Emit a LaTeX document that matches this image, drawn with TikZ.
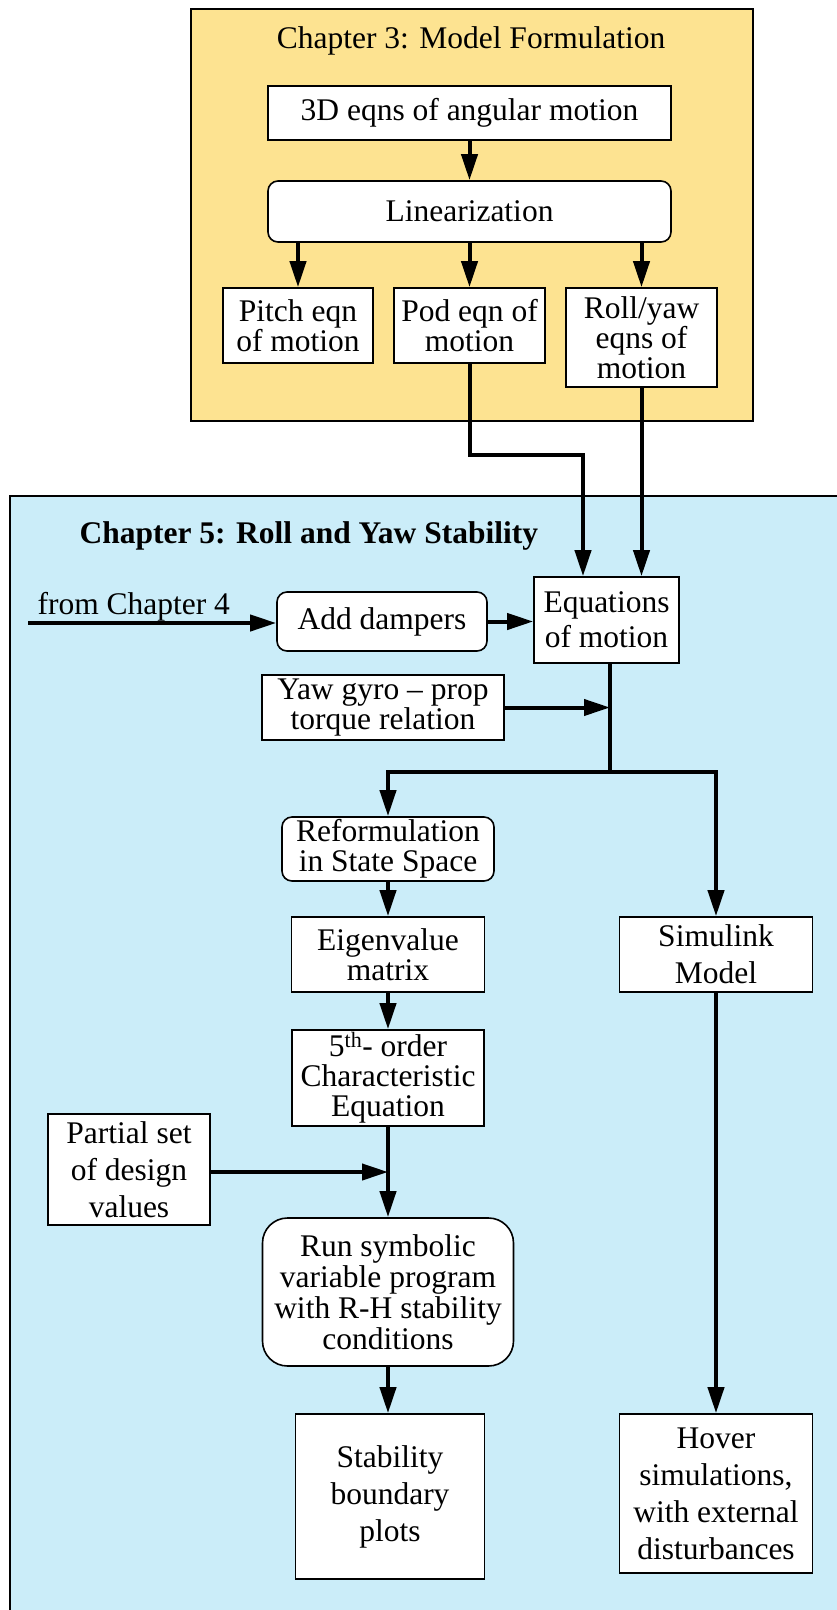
\documentclass[tikz,border=0pt]{standalone}
\usepackage{fontspec}
\setmainfont{Liberation Serif}
\usetikzlibrary{arrows.meta}
\definecolor{chapyellow}{HTML}{FDE391}
\definecolor{chapblue}{HTML}{CBEDF9}
\begin{document}
\begin{tikzpicture}[x=1pt,y=-1pt,
  txt/.style={font=\fontsize{31.5}{30}\selectfont},
  loose/.style={font=\fontsize{31.5}{37}\selectfont},
  box/.style={draw=black,line width=1.6pt,fill=white,align=center,inner sep=0pt,txt},
  rbox/.style={box,rounded corners=10pt},
  arr/.style={line width=4pt,-{Triangle[length=26pt,width=16pt]}},
  ln/.style={line width=4pt},
  frame/.style={draw=black,line width=1.6pt}
  ]
\useasboundingbox (0,0) rectangle (837,1610);
\clip (0,0) rectangle (837,1610);
% Chapter 3 frame
\draw[frame,fill=chapyellow] (191,9) rectangle (753,421);
\node[txt] (t3) at (471,41) {Chapter 3: Model Formulation};
% Chapter 5 frame
\draw[frame,fill=chapblue] (10,496) rectangle (870,1640);
\node[txt,font=\fontsize{31.5}{31}\selectfont\bfseries,anchor=west] (t5) at (76,536) {Chapter 5: Roll and Yaw Stability};

% Chapter 3 nodes
\node[box,minimum width=403pt,minimum height=54pt] (eqns) at (469.5,113) {3D eqns of angular motion};
\node[rbox,minimum width=403pt,minimum height=61pt] (lin) at (469.5,211.5) {Linearization};
\node[box,minimum width=150pt,minimum height=75pt] (pitch) at (298,325.5) {Pitch eqn\\of motion};
\node[box,minimum width=151pt,minimum height=75pt] (pod) at (469.5,325.5) {Pod eqn of\\motion};
\node[box,minimum width=151pt,minimum height=99pt] (roll) at (641.5,337.5) {Roll/yaw\\eqns of\\motion};

% Chapter 5 nodes
\node[txt,anchor=base west] (from) at (34,614) {from Chapter 4};
\coordinate (fromstart) at (28,623);
\node[rbox,minimum width=210pt,minimum height=59pt] (damp) at (382,621.5) {Add dampers};
\node[box,font=\fontsize{31.5}{35}\selectfont,minimum width=145pt,minimum height=86pt] (eqm) at (606.5,620) {Equations\\of motion};
\node[box,minimum width=242pt,minimum height=65pt] (yaw) at (383,707.5) {Yaw gyro -- prop\\torque relation};
\node[rbox,minimum width=212pt,minimum height=64pt] (reform) at (388,849) {Reformulation\\in State Space};
\node[box,minimum width=193pt,minimum height=75pt] (eigen) at (388,954.5) {Eigenvalue\\matrix};
\node[box,minimum width=192pt,minimum height=96pt] (fifth) at (388,1078) {5\textsuperscript{th}- order\\Characteristic\\Equation};
\node[box,loose,minimum width=193pt,minimum height=75pt] (simu) at (716,954.5) {Simulink\\Model};
\node[box,loose,minimum width=162pt,minimum height=111pt] (partial) at (129,1169.5) {Partial set\\of design\\values};
\node[rbox,font=\fontsize{31.5}{31}\selectfont,rounded corners=25pt,minimum width=251pt,minimum height=148pt] (run) at (388,1292) {Run symbolic\\variable program\\with R-H stability\\conditions};
\node[box,loose,minimum width=189pt,minimum height=165pt] (stab) at (390,1496.5) {Stability\\boundary\\plots};
\node[box,loose,minimum width=193pt,minimum height=159pt] (hover) at (716,1493.5) {Hover\\simulations,\\with external\\disturbances};

% coordinates
\coordinate (podbend) at (583,455);
\coordinate (junc) at (610,772);
\coordinate (pmerge) at (388,1172);

% Chapter 3 connectors
\draw[arr] (eqns.south) -- (lin.north);
\draw[arr] (pitch.north |- lin.south) -- (pitch.north);
\draw[arr] (pod.north |- lin.south) -- (pod.north);
\draw[arr] (roll.north |- lin.south) -- (roll.north);
\draw[arr] (pod.south) |- (podbend) -- (podbend |- eqm.north);
\draw[arr] (roll.south) -- (roll.south |- eqm.north);

% Chapter 5 connectors
\draw[arr] (fromstart) -- (fromstart -| damp.west);
\draw[arr] (damp.east) -- (damp.east -| eqm.west);
\draw[ln] (junc |- eqm.south) -- (junc);
\draw[arr] (yaw.east) -- (yaw.east -| junc);
\draw[arr] (junc) -| (reform.north);
\draw[arr] (junc) -| (simu.north);
\draw[arr] (reform.south) -- (eigen.north);
\draw[arr] (eigen.south) -- (fifth.north);
\draw[arr] (fifth.south) -- (run.north);
\draw[arr] (partial.east |- pmerge) -- (pmerge);
\draw[arr] (run.south) -- (run.south |- stab.north);
\draw[arr] (simu.south) -- (hover.north);
\end{tikzpicture}
\end{document}
